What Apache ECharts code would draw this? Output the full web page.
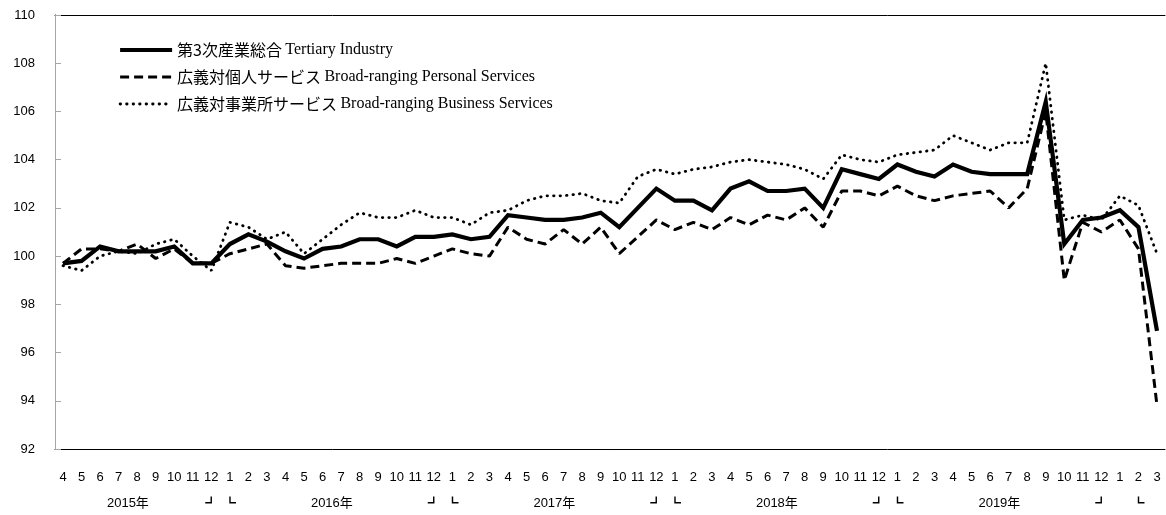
<!DOCTYPE html>
<html>
<head>
<meta charset="utf-8">
<script src="https://cdn.jsdelivr.net/npm/echarts@6/dist/echarts.min.js"></script>
<style>
  html, body { margin: 0; padding: 0; background: #fff; }
  #chart { width: 1166px; height: 515px; }
</style>
</head>
<body>
<div id="chart"></div>
<script>
// 2015年4月〜2020年3月
const months = [
  '4','5','6','7','8','9','10','11','12','1','2','3',
  '4','5','6','7','8','9','10','11','12','1','2','3',
  '4','5','6','7','8','9','10','11','12','1','2','3',
  '4','5','6','7','8','9','10','11','12','1','2','3',
  '4','5','6','7','8','9','10','11','12','1','2','3'
]

const tertiary = [
  99.7, 99.8, 100.4, 100.2, 100.2, 100.2, 100.4, 99.7, 99.7, 100.5, 100.9, 100.6,
  100.2, 99.9, 100.3, 100.4, 100.7, 100.7, 100.4, 100.8, 100.8, 100.9, 100.7, 100.8,
  101.7, 101.6, 101.5, 101.5, 101.6, 101.8, 101.2, 102.0, 102.8, 102.3, 102.3, 101.9,
  102.8, 103.1, 102.7, 102.7, 102.8, 102.0, 103.6, 103.4, 103.2, 103.8, 103.5, 103.3,
  103.8, 103.5, 103.4, 103.4, 103.4, 106.4, 100.5, 101.5, 101.6, 101.9, 101.2, 96.9
]

const personal = [
  99.7, 100.3, 100.3, 100.2, 100.5, 99.9, 100.3, 99.7, 99.7, 100.1, 100.3, 100.5,
  99.6, 99.5, 99.6, 99.7, 99.7, 99.7, 99.9, 99.7, 100.0, 100.3, 100.1, 100.0,
  101.2, 100.7, 100.5, 101.1, 100.5, 101.2, 100.1, 100.8, 101.5, 101.1, 101.4, 101.1,
  101.6, 101.3, 101.7, 101.5, 102.0, 101.2, 102.7, 102.7, 102.5, 102.9, 102.5, 102.3,
  102.5, 102.6, 102.7, 102.0, 102.8, 106.0, 99.0, 101.4, 101.0, 101.5, 100.3, 93.8
]

const business = [
  99.6, 99.4, 100.0, 100.2, 100.1, 100.5, 100.7, 100.0, 99.4, 101.4, 101.2, 100.7,
  101.0, 100.1, 100.7, 101.3, 101.8, 101.6, 101.6, 101.9, 101.6, 101.6, 101.3, 101.8,
  101.9, 102.3, 102.5, 102.5, 102.6, 102.3, 102.2, 103.3, 103.6, 103.4, 103.6, 103.7,
  103.9, 104.0, 103.9, 103.8, 103.6, 103.2, 104.2, 104.0, 103.9, 104.2, 104.3, 104.4,
  105.0, 104.7, 104.4, 104.7, 104.7, 108.0, 101.5, 101.7, 101.5, 102.5, 102.1, 100.1
]

const seriesNames = [
  '第3次産業総合 Tertiary Industry',
  '広義対個人サービス Broad-ranging Personal Services',
  '広義対事業所サービス Broad-ranging Business Services'
]

// 年ラベル（カテゴリ位置）と区切り記号
const yearLabels = ['2015年', '2016年', '2017年', '2018年', '2019年']
const yearAt = [3.5, 14.5, 26.5, 38.5, 50.5]
const yearEndAt = [8, 20, 32, 44, 56]
const yearStartAt = [9, 21, 33, 45, 58]

const yTicks = { min: 92, max: 110, step: 2 }

const sans = "'Liberation Sans', 'Noto Sans CJK JP', sans-serif"

const lowerLabel = {}
yearAt.forEach((p, i) => { lowerLabel[p] = yearLabels[i] })
yearEndAt.forEach(p => { lowerLabel[p] = '{br|┛}' })
yearStartAt.forEach(p => { lowerLabel[p] = '{br|┗}' })

const chart = echarts.init(document.getElementById('chart'))

const blank = { show: false }

chart.setOption({
  animation: false,
  backgroundColor: '#fff',
  grid: [
    // 枠
    { left: 55, right: 1, top: 15, bottom: 66, outerBoundsMode: 'none' },
    // データ
    { left: 63, right: 9, top: 15, bottom: 66, outerBoundsMode: 'none' }
  ],
  legend: {
    orient: 'vertical',
    left: 113,
    top: 37,
    itemWidth: 52,
    itemHeight: 14,
    itemGap: 11,
    itemStyle: { opacity: 0 },
    lineStyle: { width: 'inherit' },
    data: seriesNames,
    formatter: (name) => {
      const k = name.indexOf(' ')
      return '{a|' + name.slice(0, k) + '} {b|' + name.slice(k + 1) + '}'
    },
    textStyle: {
      color: '#000',
      rich: {
        a: { fontFamily: "'Noto Sans CJK JP'", fontSize: 16, color: '#000' },
        b: { fontFamily: "'Liberation Serif'", fontSize: 16, color: '#000' }
      }
    }
  },
  xAxis: [
    { gridIndex: 0, type: 'value', min: 0, max: 1, position: 'bottom',
      axisLine: { show: true, lineStyle: { color: '#000', width: 1 } },
      axisTick: blank, axisLabel: blank, splitLine: blank },
    { gridIndex: 0, type: 'value', min: 0, max: 1, position: 'top',
      axisLine: { show: true, lineStyle: { color: '#000', width: 1 } },
      axisTick: blank, axisLabel: blank, splitLine: blank },
    { gridIndex: 1, type: 'category', data: months, boundaryGap: false, position: 'bottom',
      axisLine: blank, axisTick: blank, splitLine: blank,
      axisLabel: { interval: 0, margin: 22, color: '#000', fontSize: 13, fontFamily: sans } },
    { gridIndex: 1, type: 'value', min: 0, max: months.length - 1, interval: 0.5, position: 'bottom',
      axisLine: blank, axisTick: blank, splitLine: blank,
      axisLabel: {
        margin: 48, color: '#000', fontSize: 13, fontFamily: sans,
        showMinLabel: true, showMaxLabel: true, hideOverlap: false,
        formatter: (v) => lowerLabel[v] || '',
        rich: { br: { fontSize: 12, fontFamily: "'Noto Sans CJK JP'", color: '#000' } }
      } }
  ],
  yAxis: [
    { gridIndex: 0, type: 'value', min: yTicks.min, max: yTicks.max, interval: yTicks.step,
      axisLine: { show: true, lineStyle: { color: '#a6a6a6', width: 1 } },
      axisTick: { show: true, inside: true, length: 6, lineStyle: { color: '#a6a6a6' } },
      axisLabel: { margin: 20, color: '#000', fontSize: 13, fontFamily: sans },
      splitLine: blank, z: 5 },
    { gridIndex: 0, type: 'value', min: 0, max: 1, position: 'right',
      axisLine: { show: true, lineStyle: { color: '#000', width: 1 } },
      axisTick: blank, axisLabel: blank, splitLine: blank },
    { gridIndex: 1, type: 'value', min: yTicks.min, max: yTicks.max, interval: yTicks.step,
      show: false }
  ],
  series: [
    {
      name: seriesNames[0], type: 'line', xAxisIndex: 2, yAxisIndex: 2,
      data: tertiary, symbol: 'none', z: 3,
      lineStyle: { color: '#000', width: 4.2, join: 'miter' },
      itemStyle: { color: '#000' }
    },
    {
      name: seriesNames[1], type: 'line', xAxisIndex: 2, yAxisIndex: 2,
      data: personal, symbol: 'none', z: 2,
      lineStyle: { color: '#000', width: 3, type: [9, 5] },
      itemStyle: { color: '#000' }
    },
    {
      name: seriesNames[2], type: 'line', xAxisIndex: 2, yAxisIndex: 2,
      data: business, symbol: 'none', z: 4,
      lineStyle: { color: '#000', width: 2.8, type: [0.5, 6], cap: 'round' },
      itemStyle: { color: '#000' }
    }
  ]
})
</script>
</body>
</html>
